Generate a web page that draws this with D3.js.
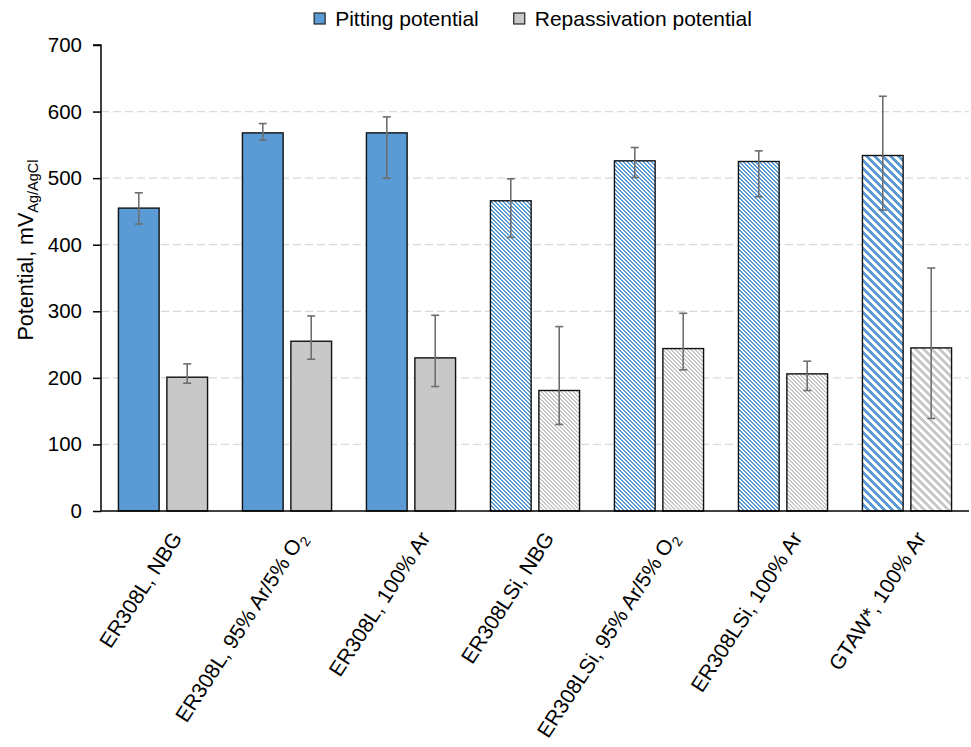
<!DOCTYPE html>
<html>
<head>
<meta charset="utf-8">
<script src="https://cdn.jsdelivr.net/npm/d3@7"></script>
<style>
  html, body { margin: 0; padding: 0; background: #fff; }
  svg { display: block; font-family: "Liberation Sans", Arial, sans-serif; }
</style>
</head>
<body>
<svg id="chart" width="971" height="747"></svg>
<script>
// Weld-metal categories (the "2" in O2 is drawn as a subscript)
const categories = [
  "ER308L, NBG",
  "ER308L, 95% Ar/5% O2",
  "ER308L, 100% Ar",
  "ER308LSi, NBG",
  "ER308LSi, 95% Ar/5% O2",
  "ER308LSi, 100% Ar",
  "GTAW*, 100% Ar"
];
const seriesNames = ["Pitting potential", "Repassivation potential"];

// Mean potentials, mV vs Ag/AgCl
const pitting       = [455, 568, 568, 466, 526, 525, 534];
const repassivation = [201, 255, 230, 181, 244, 206, 245];

// Error bar extents (lower / upper), mV
const pittingLow  = [431, 557, 500, 411, 501, 472, 452];
const pittingHigh = [478, 582, 592, 499, 546, 541, 623];
const repassLow   = [192, 228, 187, 130, 212, 181, 139];
const repassHigh  = [221, 293, 294, 277, 297, 225, 365];

const yTicks = [0, 100, 200, 300, 400, 500, 600, 700];

// ---- layout ----
const svg = d3.select("#chart");
const plotLeft = 101, plotRight = 969, plotTop = 45, plotBottom = 511;

const x0 = d3.scaleBand().domain(categories).range([plotLeft, plotRight]).paddingInner(0).paddingOuter(0);
const x1 = d3.scaleBand().domain(seriesNames).range([0, x0.bandwidth()])
  .paddingInner(0.16).paddingOuter(0.36);
const y = d3.scaleLinear().domain([0, 700]).range([plotBottom, plotTop]);

const colors = { "Pitting potential": "#5B9BD5", "Repassivation potential": "#C8C8C8" };
// texture used for each welding route
const texture = c => c.startsWith("GTAW") ? "wide" : (c.startsWith("ER308LSi") ? "fine" : "solid");

// ---- pixel-aligned downward-diagonal stripe patterns ----
const defs = svg.append("defs");
function stripe(id, color, size, width) {
  const p = defs.append("pattern").attr("id", id)
    .attr("patternUnits", "userSpaceOnUse")
    .attr("width", size).attr("height", size);
  p.append("rect").attr("width", size).attr("height", size).attr("fill", "#fff");
  let d = "";
  for (let r = 0; r < size; r++) {
    for (let k = 0; k < width; k++) {
      const c = (r + k) % size;
      d += `M${c},${r}h1v1h-1z`;
    }
  }
  p.append("path").attr("d", d).attr("fill", color).attr("shape-rendering", "crispEdges");
}
seriesNames.forEach((s, i) => {
  stripe(`fine${i}`, colors[s], 4, 2);
  stripe(`wide${i}`, colors[s], 8, 4);
});
function fillFor(cat, si) {
  const t = texture(cat);
  if (t === "solid") return colors[seriesNames[si]];
  return `url(#${t}${si})`;
}

// ---- gridlines ----
svg.append("g").selectAll("line").data(yTicks.filter(t => t > 0 && t < 700)).join("line")
  .attr("x1", plotLeft).attr("x2", plotRight)
  .attr("y1", d => y(d)).attr("y2", d => y(d))
  .attr("stroke", "#D9D9D9").attr("stroke-width", 1.3).attr("stroke-dasharray", "8,4");

// ---- bars ----
const rows = categories.map((c, i) => ({
  cat: c,
  vals: [
    { s: 0, v: pitting[i], lo: pittingLow[i], hi: pittingHigh[i] },
    { s: 1, v: repassivation[i], lo: repassLow[i], hi: repassHigh[i] }
  ]
}));

const groups = svg.append("g").selectAll("g").data(rows).join("g")
  .attr("transform", d => `translate(${x0(d.cat)},0)`);

groups.selectAll("rect").data(d => d.vals.map(v => ({ ...v, cat: d.cat }))).join("rect")
  .attr("x", d => x1(seriesNames[d.s]))
  .attr("width", x1.bandwidth())
  .attr("y", d => y(d.v))
  .attr("height", d => y(0) - y(d.v))
  .attr("fill", d => fillFor(d.cat, d.s))
  .attr("stroke", "#111").attr("stroke-width", 1.4);

// ---- error bars ----
const eb = groups.selectAll("g.err").data(d => d.vals).join("g").attr("class", "err")
  .attr("stroke", "#6E6E6E").attr("stroke-width", 1.6);
const cx = d => x1(seriesNames[d.s]) + x1.bandwidth() / 2;
eb.append("line").attr("x1", cx).attr("x2", cx).attr("y1", d => y(d.lo)).attr("y2", d => y(d.hi));
eb.append("line").attr("x1", d => cx(d) - 4).attr("x2", d => cx(d) + 4).attr("y1", d => y(d.lo)).attr("y2", d => y(d.lo));
eb.append("line").attr("x1", d => cx(d) - 4).attr("x2", d => cx(d) + 4).attr("y1", d => y(d.hi)).attr("y2", d => y(d.hi));

// ---- axes ----
const yAxis = d3.axisLeft(y).tickValues(yTicks).tickSize(8).tickPadding(11);
const gy = svg.append("g").attr("transform", `translate(${plotLeft},0)`).call(yAxis);
gy.select(".domain").attr("stroke", "#000").attr("stroke-width", 1.5).attr("d", `M-8,${plotTop}H0V${plotBottom}`);
gy.selectAll(".tick line").attr("stroke", "#000").attr("stroke-width", 1.5);
gy.selectAll(".tick text").attr("font-size", 20.5).attr("fill", "#000")
  .attr("font-family", "Liberation Sans, Arial, sans-serif");

// baseline
svg.append("line").attr("x1", plotLeft).attr("x2", plotRight).attr("y1", plotBottom).attr("y2", plotBottom)
  .attr("stroke", "#000").attr("stroke-width", 1.5);

// category labels, rotated
const labels = svg.append("g").selectAll("text").data(categories).join("text")
  .attr("transform", d => `translate(${x0(d) + x0.bandwidth() / 2 + 20},538) rotate(-57)`)
  .attr("text-anchor", "end")
  .attr("font-size", 21).attr("fill", "#000");
labels.each(function (d) {
  const t = d3.select(this);
  const m = d.match(/^(.*O)2$/);
  if (m) {
    t.append("tspan").text(m[1]);
    t.append("tspan").attr("font-size", 14).attr("dy", 5).text("2");
  } else {
    t.text(d);
  }
});

// y-axis title
const yt = svg.append("text")
  .attr("transform", "translate(33,250) rotate(-90)")
  .attr("text-anchor", "middle").attr("font-size", 21.5).attr("fill", "#000");
yt.append("tspan").text("Potential, mV");
yt.append("tspan").attr("font-size", 14.5).attr("dy", 5).text("Ag/AgCl");

// ---- legend ----
const legend = svg.append("g");
let lx = 0;
seriesNames.forEach((s, i) => {
  const g = legend.append("g").attr("transform", `translate(${lx},0)`);
  g.append("rect").attr("x", 0).attr("y", 13).attr("width", 11).attr("height", 11)
    .attr("fill", colors[s]).attr("stroke", "#222").attr("stroke-width", 1.2);
  const t = g.append("text").attr("x", 21).attr("y", 25.5).attr("font-size", 21).attr("fill", "#000").text(s);
  lx += 21 + t.node().getComputedTextLength() + 35;
});
const lw = lx - 35;
legend.attr("transform", `translate(${533 - lw / 2},0)`);
</script>
</body>
</html>
